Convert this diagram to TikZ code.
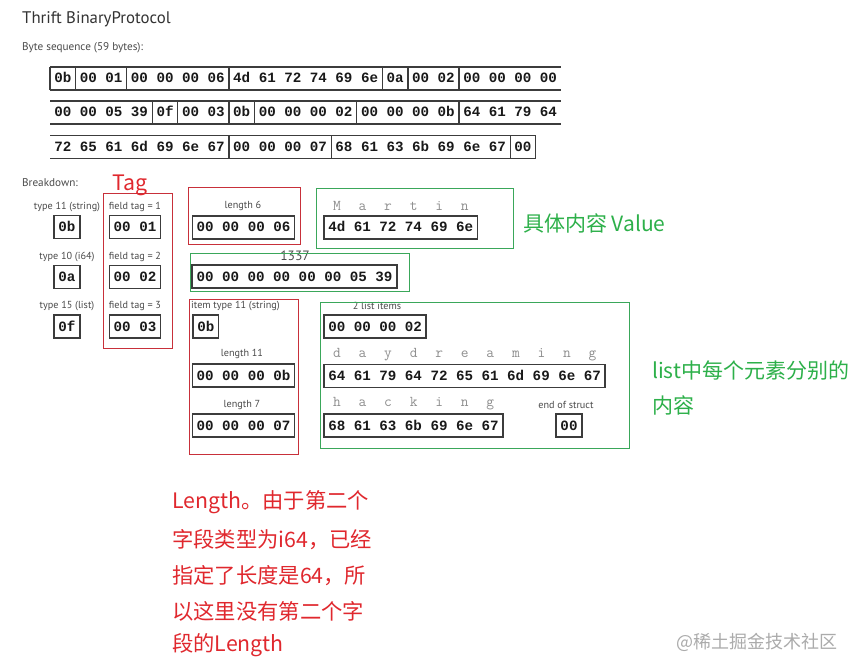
\documentclass[tikz,border=0pt]{standalone}
\usepackage{fontspec}
\setmainfont{PT Sans}
\newfontfamily\cjk{Noto Sans CJK SC}
\newfontfamily\monof{Liberation Mono}
\usetikzlibrary{positioning,calc}
\definecolor{boxgray}{HTML}{3C3C3C}
\definecolor{lblgray}{HTML}{4A4A4A}
\definecolor{spellgray}{HTML}{8E8E8E}
\definecolor{annred}{HTML}{E0282E}
\definecolor{framered}{HTML}{C8303A}
\definecolor{framegreen}{HTML}{3AA75A}
\definecolor{anngreen}{HTML}{2DB04A}
\definecolor{wmgray}{HTML}{ABABAB}
\newcommand\spl[1]{\makebox[25.56pt]{#1}}
\begin{document}
\begin{tikzpicture}[x=1pt,y=-1pt,
  bytecell/.style={font=\monof\bfseries\fontsize{14.2}{16}\selectfont, text=black!90,
    inner xsep=4.26pt, inner ysep=0pt, minimum height=23pt, text height=9pt, text depth=0pt, outer sep=0pt},
  bytebox/.style={bytecell, draw=boxgray, line width=1.6pt, fill=white},
  rowline/.style={boxgray, line width=1.8pt},
  sepline/.style={boxgray, line width=1.3pt},
  lbl/.style={font=\fontsize{10.2}{12}\selectfont, text=lblgray, inner sep=0pt},
  spell/.style={font=\ttfamily\fontsize{15}{16}\selectfont, text=spellgray, inner sep=0pt, anchor=west},
  redframe/.style={draw=framered, line width=1pt},
  greenframe/.style={draw=framegreen, line width=1pt},
  annr/.style={font=\cjk\fontsize{21.3}{26}\selectfont, text=annred, inner sep=0pt, anchor=west},
  anng/.style={font=\cjk\fontsize{21}{26}\selectfont, text=anngreen, inner sep=0pt, anchor=west},
]
\useasboundingbox[fill=white] (0,0) rectangle (859,671);

% titles
\node[anchor=west, inner sep=0pt, font=\fontsize{16.8}{19}\selectfont, text=black!80] (title) at (22,19) {Thrift BinaryProtocol};
\node[anchor=west, inner sep=0pt, font=\fontsize{11.2}{13}\selectfont, text=lblgray] (bseq) at (22,48) {Byte sequence (59 bytes):};
\node[anchor=west, inner sep=0pt, font=\fontsize{11.2}{13}\selectfont, text=lblgray] (bdown) at (22,183) {Breakdown:};

% byte sequence row 1
\node[bytecell, anchor=west] (r1a) at (50,78.5) {0b};
\node[bytecell, right=0pt of r1a] (r1b) {00 01};
\node[bytecell, right=0pt of r1b] (r1c) {00 00 00 06};
\node[bytecell, right=0pt of r1c] (r1d) {4d 61 72 74 69 6e};
\node[bytecell, right=0pt of r1d] (r1e) {0a};
\node[bytecell, right=0pt of r1e] (r1f) {00 02};
\node[bytecell, right=0pt of r1f] (r1g) {00 00 00 00};
\draw[rowline] (r1a.north west) -- (r1g.north east);
\draw[rowline] (r1a.south west) -- (r1g.south east);
\draw[sepline] (r1a.north west) -- (r1a.south west);
\foreach \n in {r1a,r1b,r1c,r1d,r1e,r1f} \draw[sepline] (\n.north east) -- (\n.south east);

% row 2
\node[bytecell, anchor=west] (r2a) at (50,112.5) {00 00 05 39};
\node[bytecell, right=0pt of r2a] (r2b) {0f};
\node[bytecell, right=0pt of r2b] (r2c) {00 03};
\node[bytecell, right=0pt of r2c] (r2d) {0b};
\node[bytecell, right=0pt of r2d] (r2e) {00 00 00 02};
\node[bytecell, right=0pt of r2e] (r2f) {00 00 00 0b};
\node[bytecell, right=0pt of r2f] (r2g) {64 61 79 64};
\draw[rowline] (r2a.north west) -- (r2g.north east);
\draw[rowline] (r2a.south west) -- (r2g.south east);
\foreach \n in {r2a,r2b,r2c,r2d,r2e,r2f} \draw[sepline] (\n.north east) -- (\n.south east);

% row 3
\node[bytecell, anchor=west] (r3a) at (50,147) {72 65 61 6d 69 6e 67};
\node[bytecell, right=0pt of r3a] (r3b) {00 00 00 07};
\node[bytecell, right=0pt of r3b] (r3c) {68 61 63 6b 69 6e 67};
\node[bytecell, right=0pt of r3c] (r3d) {00};
\draw[rowline] (r3a.north west) -- (r3d.north east);
\draw[rowline] (r3a.south west) -- (r3d.south east);
\foreach \n in {r3a,r3b,r3c,r3d} \draw[sepline] (\n.north east) -- (\n.south east);

% breakdown: types and tags
\node[lbl] (lt1) at (67,207) {type 11 (string)};
\node[bytebox] (t1) at (67,227) {0b};
\node[lbl] (lf1) at (135,207) {field tag = 1};
\node[bytebox] (f1) at (135,227) {00 01};
\node[lbl] (lt2) at (67,257) {type 10 (i64)};
\node[bytebox] (t2) at (67,277) {0a};
\node[lbl] (lf2) at (135,257) {field tag = 2};
\node[bytebox] (f2) at (135,277) {00 02};
\node[lbl] (lt3) at (67,306) {type 15 (list)};
\node[bytebox] (t3) at (67,326.5) {0f};
\node[lbl] (lf3) at (135,306) {field tag = 3};
\node[bytebox] (f3) at (135,326.5) {00 03};

% string field
\node[lbl] (l6) at (243,206) {length 6};
\node[bytebox] (len6) at (243.5,227.5) {00 00 00 06};
\node[bytebox, anchor=west] (mbox) at (324,227.5) {4d 61 72 74 69 6e};
\node[spell] (msp) at ([yshift=10pt]mbox.north west) {\spl{M}\spl{a}\spl{r}\spl{t}\spl{i}\spl{n}};

% i64 field
\node[inner sep=0pt, font=\fontsize{13.5}{15}\selectfont, text=black!70] (n1337) at (295,256) {1337};
\node[bytebox] (ibox) at (294.5,276.5) {00 00 00 00 00 00 05 39};

% list field
\node[lbl, anchor=west] (lit) at (191,306) {item type 11 (string)};
\node[bytebox, anchor=west] (it) at (193,326.5) {0b};
\node[lbl] (l11) at (242,354) {length 11};
\node[bytebox] (len11) at (243.5,375.5) {00 00 00 0b};
\node[lbl] (l7) at (242,405) {length 7};
\node[bytebox] (len7) at (243.5,425.5) {00 00 00 07};
\node[lbl] (lcnt) at (377,306) {2 list items};
\node[bytebox, anchor=west] (cnt) at (324,326.5) {00 00 00 02};
\node[bytebox, anchor=west] (dd) at (324,376) {64 61 79 64 72 65 61 6d 69 6e 67};
\node[spell] (ddsp) at ([yshift=10pt]dd.north west) {\spl{d}\spl{a}\spl{y}\spl{d}\spl{r}\spl{e}\spl{a}\spl{m}\spl{i}\spl{n}\spl{g}};
\node[bytebox, anchor=west] (hk) at (324,425.5) {68 61 63 6b 69 6e 67};
\node[spell] (hksp) at ([yshift=10pt]hk.north west) {\spl{h}\spl{a}\spl{c}\spl{k}\spl{i}\spl{n}\spl{g}};
\node[lbl] (leos) at (566,405) {end of struct};
\node[bytebox] (eos) at (569,425.5) {00};

% frames
\draw[redframe] (103,194) rectangle (172,348);
\draw[redframe] (188,188) rectangle (300,244);
\draw[greenframe] (316,189) rectangle (513,248);
\draw[greenframe] (190,253) rectangle (409,291);
\draw[redframe] (189,299) rectangle (298,454);
\draw[greenframe] (320,302) rectangle (629,448);

% annotations
\node[annr] (tag) at (112,185) {Tag};
\node[anng] (val) at (523,223) {具体内容 Value};
\node[anng] (li1) at (652,370) {list中每个元素分别的};
\node[anng] (li2) at (652,405) {内容};
\node[annr] (rl1) at (172,502) {Length。由于第二个};
\node[annr] (rl2) at (172,540) {字段类型为i64，已经};
\node[annr] (rl3) at (172,576) {指定了长度是64，所};
\node[annr] (rl4) at (172,611) {以这里没有第二个字};
\node[annr] (rl5) at (172,645) {段的Length};

% watermark
\node[anchor=east, inner sep=0pt, font=\cjk\fontsize{18}{20}\selectfont, text=wmgray] (wm) at (838,642) {@稀土掘金技术社区};
\end{tikzpicture}
\end{document}
